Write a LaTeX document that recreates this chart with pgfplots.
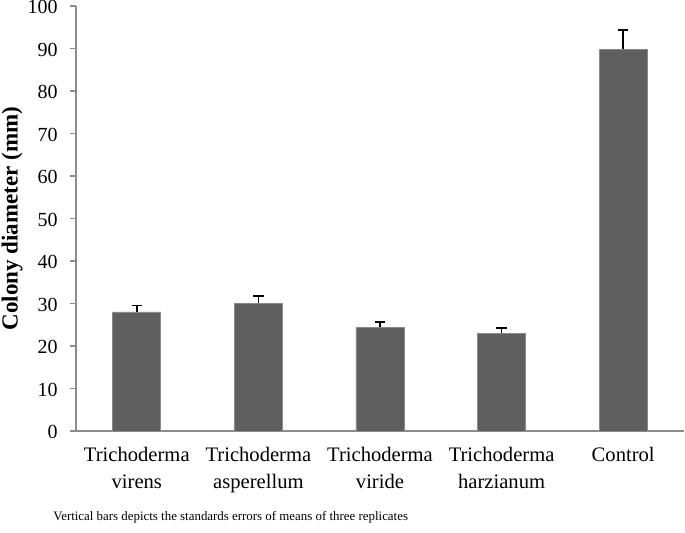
\documentclass[border=0pt]{standalone}
\usepackage{fontspec}
\setmainfont{Liberation Serif}
\usepackage{pgfplots}
\pgfplotsset{compat=1.18}
\definecolor{barfill}{HTML}{5F5F5F}
\definecolor{baredge}{HTML}{8A8A8A}
\definecolor{axisgray}{HTML}{8C8C8C}
\begin{document}
\begin{tikzpicture}
\useasboundingbox (-38pt,-51pt) rectangle (304.5pt,215.5pt);
\begin{axis}[
  scale only axis,
  width=304pt, height=212.5pt,
  xmin=-0.5, xmax=4.5,
  ymin=0, ymax=100,
  ytick={0,10,...,100},
  xtick={0,1,2,3,4},
  xticklabels={{Trichoderma\\virens},{Trichoderma\\asperellum},{Trichoderma\\viride},{Trichoderma\\harzianum},{Control}},
  xticklabel style={align=center, font=\fontsize{10.3}{13.5}\selectfont, yshift=-1.5pt},
  yticklabel style={font=\fontsize{10}{12}\selectfont, xshift=-2.6pt, yshift=-0.7pt},
  /pgf/number format/assume math mode=true,
  extra x ticks={-0.5,0.5,1.5,2.5,3.5,4.5},
  extra x tick labels={},
  extra x tick style={major tick length=3pt, tick style={axisgray, line width=0.6pt}, grid=none},
  major x tick style={draw=none},
  axis x line*=bottom,
  axis y line*=left,
  axis line style={axisgray, line width=0.6pt},
  y tick style={axisgray, line width=0.6pt},
  major tick length=3pt,
  tick align=outside,
  tick pos=left,
  ylabel={\bfseries Colony diameter (mm)},
  ylabel style={font=\fontsize{11.5}{13}\selectfont, at={(axis description cs:-0.105,0.5)}, anchor=center},
  ybar,
  bar width=24pt,
  enlarge x limits=false,
  clip=false,
]
\addplot[fill=barfill, draw=baredge, line width=0.4pt,
  error bars/.cd, y dir=plus, y explicit,
  error bar style={black, line width=0.8pt},
  error mark options={black, rotate=90, mark size=2.6pt, line width=0.8pt}]
  coordinates {
    (0,28.0) +- (0,1.5)
    (1,30.0) +- (0,1.7)
    (2,24.4) +- (0,1.25)
    (3,23.05) +- (0,1.25)
    (4,89.8) +- (0,4.5)
  };
\end{axis}
\node[anchor=west, inner sep=0pt, font=\fontsize{6.45}{8}\selectfont] at (-11.5pt,-43pt) {Vertical bars depicts the standards errors of means of three replicates};
\end{tikzpicture}
\end{document}
